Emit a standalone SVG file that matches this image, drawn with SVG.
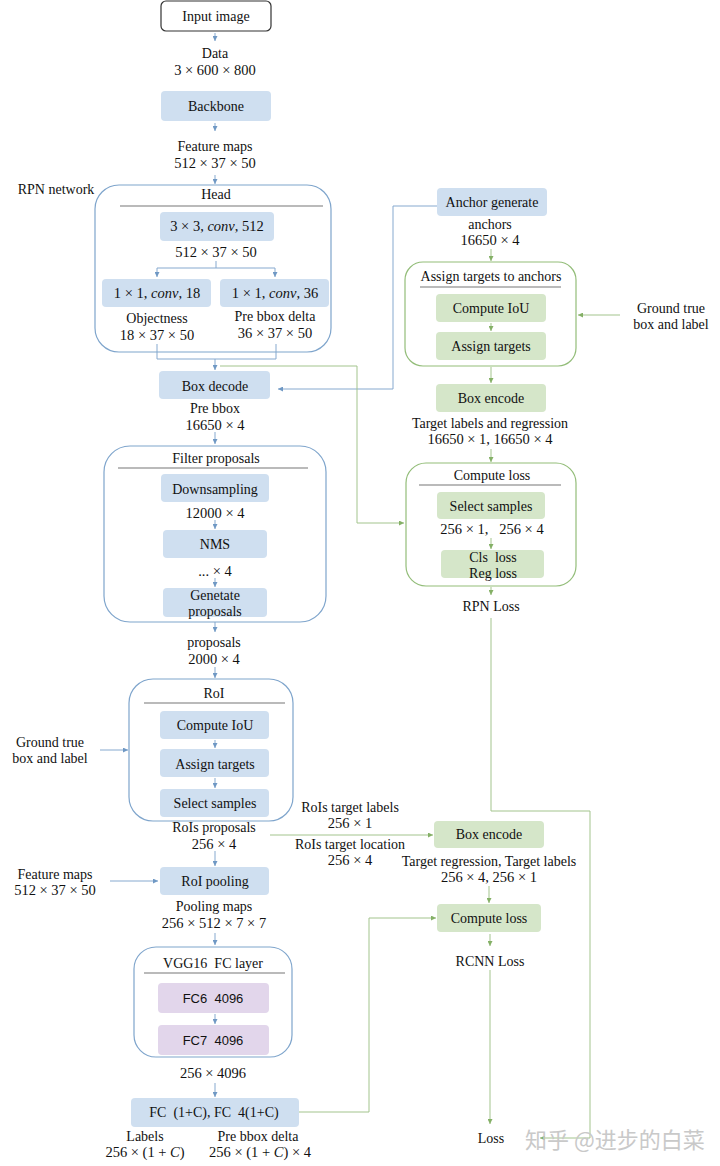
<svg xmlns="http://www.w3.org/2000/svg" width="720" height="1166" viewBox="0 0 720 1166">
<style>
text{font-family:"Liberation Serif","Times New Roman",serif;font-size:14px;fill:#111;text-anchor:middle;dominant-baseline:central}
.m{font-size:14.5px}
.i{font-style:italic}
.bb{fill:#cfdff0;stroke:none}
.gb{fill:#d5e6c9;stroke:none}
.pb{fill:#e2d6eb;stroke:none}
.bc{fill:none;stroke:#7fa5cc;stroke-width:1.2}
.gc{fill:none;stroke:#93bd79;stroke-width:1.2}
.sep{stroke:#777;stroke-width:1.2}
.bl{fill:none;stroke:#86a9cf;stroke-width:1}
.gl{fill:none;stroke:#a3c48d;stroke-width:1}
.ab{marker-end:url(#ab)}
.ag{marker-end:url(#ag)}
.wm{font-family:"Noto Sans CJK SC","Liberation Sans",sans-serif;font-size:22px;fill:#c9c9c9;text-anchor:start}
</style>
<defs>
<marker id="ab" viewBox="0 0 6 6" refX="6" refY="3" markerWidth="5" markerHeight="5" markerUnits="userSpaceOnUse" orient="auto"><path d="M0,0 L6,3 L0,6 z" fill="#6f98c4"/></marker>
<marker id="ag" viewBox="0 0 6 6" refX="6" refY="3" markerWidth="5" markerHeight="5" markerUnits="userSpaceOnUse" orient="auto"><path d="M0,0 L6,3 L0,6 z" fill="#84b066"/></marker>
</defs>
<rect width="720" height="1166" fill="#fff"/>

<g id="connectors">
<path class="bl ab" d="M215,33 V41"/>
<path class="bl ab" d="M215,123 V131"/>
<path class="bl ab" d="M215,175 V184"/>
<path class="bl" d="M216,261 V268 M157,268 H275"/>
<path class="bl ab" d="M157,268 V277"/>
<path class="bl ab" d="M275,268 V277"/>
<path class="bl" d="M157,344 V359 H276 V344"/>
<path class="bl ab" d="M215,359 V370"/>
<path class="bl ab" d="M437,206 H393 V389 H278"/>
<path class="bl ab" d="M215,432 V444"/>
<path class="bl ab" d="M215,520 V529"/>
<path class="bl ab" d="M215,578 V587"/>
<path class="bl ab" d="M215,622 V632"/>
<path class="bl ab" d="M215,667 V678"/>
<path class="bl ab" d="M215,740 V748"/>
<path class="bl ab" d="M215,778 V788"/>
<path class="bl ab" d="M100,750 H128"/>
<path class="bl ab" d="M215,851 V866"/>
<path class="bl ab" d="M110,881 H158"/>
<path class="bl ab" d="M215,933 V945"/>
<path class="bl ab" d="M215,1014 V1024"/>
<path class="bl ab" d="M215,1083 V1097"/>
<path class="gl ag" d="M220,366 H357 V523 H404"/>
<path class="gl ag" d="M491,249 V261"/>
<path class="gl ag" d="M491,323 V331"/>
<path class="gl ag" d="M620,315 H578"/>
<path class="gl ag" d="M491,367 V383"/>
<path class="gl ag" d="M491,449 V462"/>
<path class="gl ag" d="M491,538 V549"/>
<path class="gl ag" d="M491,587 V595"/>
<path class="gl ag" d="M491,618 V811 H590 V1138 H540"/>
<path class="gl ag" d="M270,835 H433"/>
<path class="gl ag" d="M489,886 V903"/>
<path class="gl ag" d="M299,1112 H369 V918 H436"/>
<path class="gl ag" d="M490,934 V946"/>
<path class="gl ag" d="M490,970 V1124"/>
</g>

<g id="input-image"><rect x="161" y="1" width="110" height="30" rx="5" fill="#fff" stroke="#333" stroke-width="1.2"/><text x="216" y="16">Input image</text></g>
<g id="data"><text x="215" y="53">Data</text><text class="m" x="215" y="70">3 × 600 × 800</text></g>
<g id="backbone"><rect class="bb" x="161" y="91" width="110" height="30" rx="4"/><text x="216" y="106">Backbone</text></g>
<g id="feature-maps"><text x="215" y="146">Feature maps</text><text class="m" x="215" y="163">512 × 37 × 50</text></g>

<g id="rpn-head">
<text x="56" y="189">RPN network</text>
<rect class="bc" x="95" y="185" width="236" height="167" rx="24"/>
<text x="216" y="194">Head</text>
<line class="sep" x1="120" y1="206" x2="323" y2="206"/>
</g>
<g id="conv3x3"><rect class="bb" x="160" y="212" width="114" height="29" rx="4"/><text class="m" x="217" y="226">3 × 3, <tspan class="i">conv</tspan>, 512</text><text class="m" x="216" y="252">512 × 37 × 50</text></g>
<g id="conv18"><rect class="bb" x="102" y="279" width="109" height="28" rx="4"/><text class="m" x="157" y="293">1 × 1, <tspan class="i">conv</tspan>, 18</text><text x="157" y="318">Objectness</text><text class="m" x="157" y="335">18 × 37 × 50</text></g>
<g id="conv36"><rect class="bb" x="220" y="279" width="109" height="28" rx="4"/><text class="m" x="275" y="293">1 × 1, <tspan class="i">conv</tspan>, 36</text><text x="275" y="316">Pre bbox delta</text><text class="m" x="275" y="333">36 × 37 × 50</text></g>

<g id="box-decode"><rect class="bb" x="159" y="371" width="111" height="28" rx="4"/><text x="215" y="386">Box decode</text><text x="215" y="408">Pre bbox</text><text class="m" x="215" y="425">16650 × 4</text></g>

<g id="filter-proposals">
<rect class="bc" x="104" y="446" width="222" height="176" rx="26"/>
<text x="216" y="458">Filter proposals</text>
<line class="sep" x1="118" y1="468" x2="308" y2="468"/>
</g>
<g id="downsampling"><rect class="bb" x="161" y="474" width="108" height="28" rx="4"/><text x="215" y="489">Downsampling</text><text class="m" x="215" y="513">12000 × 4</text></g>
<g id="nms"><rect class="bb" x="163" y="530" width="104" height="28" rx="4"/><text x="215" y="544">NMS</text><text class="m" x="215" y="571">... × 4</text></g>
<g id="generate-proposals"><rect class="bb" x="163" y="588" width="104" height="29" rx="4"/><text x="215" y="595">Genetate</text><text x="215" y="611">proposals</text></g>
<g id="proposals"><text x="214" y="642">proposals</text><text class="m" x="214" y="659">2000 × 4</text></g>

<g id="roi">
<rect class="bc" x="129" y="679" width="164" height="142" rx="24"/>
<text x="214" y="693">RoI</text>
<line class="sep" x1="144" y1="703" x2="285" y2="703"/>
</g>
<g id="roi-compute-iou"><rect class="bb" x="160" y="711" width="109" height="28" rx="4"/><text x="215" y="725">Compute IoU</text></g>
<g id="roi-assign-targets"><rect class="bb" x="160" y="749" width="109" height="28" rx="4"/><text x="215" y="764">Assign targets</text></g>
<g id="roi-select-samples"><rect class="bb" x="160" y="789" width="109" height="28" rx="4"/><text x="215" y="803">Select samples</text></g>
<g id="gt-left"><text x="50" y="742">Ground true</text><text x="50" y="758">box and label</text></g>
<g id="rois-proposals"><text x="214" y="827">RoIs proposals</text><text class="m" x="214" y="844">256 × 4</text></g>

<g id="fm-left"><text x="55" y="874">Feature maps</text><text class="m" x="55" y="890">512 × 37 × 50</text></g>
<g id="roi-pooling"><rect class="bb" x="160" y="867" width="109" height="28" rx="4"/><text x="215" y="881">RoI pooling</text><text x="214" y="906">Pooling maps</text><text class="m" x="214" y="923">256 × 512 × 7 × 7</text></g>

<g id="vgg16-fc">
<rect class="bc" x="134" y="947" width="158" height="110" rx="22"/>
<text x="213" y="963" xml:space="preserve">VGG16  FC layer</text>
<line class="sep" x1="144" y1="973" x2="285" y2="973"/>
</g>
<g id="fc6"><rect class="pb" x="158" y="983" width="111" height="30" rx="4"/><text x="213" y="998" style="font-family:'Liberation Sans',sans-serif;font-size:13px" xml:space="preserve">FC6  4096</text></g>
<g id="fc7"><rect class="pb" x="158" y="1025" width="111" height="30" rx="4"/><text x="213" y="1040" style="font-family:'Liberation Sans',sans-serif;font-size:13px" xml:space="preserve">FC7  4096</text></g>
<text class="m" x="213" y="1073">256 × 4096</text>
<g id="fc-out"><rect class="bb" x="131" y="1098" width="168" height="29" rx="4"/><text x="214" y="1112" xml:space="preserve">FC  (1+C), FC  4(1+C)</text></g>
<g id="labels-out"><text x="145" y="1136">Labels</text><text class="m" x="145" y="1152">256 × (1 + <tspan class="i">C</tspan>)</text></g>
<g id="delta-out"><text x="258" y="1136">Pre bbox delta</text><text class="m" x="260" y="1152">256 × (1 + <tspan class="i">C</tspan>) × 4</text></g>

<g id="anchor-generate"><rect class="bb" x="437" y="188" width="110" height="28" rx="4"/><text x="492" y="202">Anchor generate</text><text x="490" y="224">anchors</text><text class="m" x="490" y="240">16650 × 4</text></g>

<g id="assign-targets-to-anchors">
<rect class="gc" x="405" y="262" width="171" height="104" rx="18"/>
<text x="491" y="276">Assign targets to anchors</text>
<line class="sep" x1="420" y1="287" x2="561" y2="287"/>
</g>
<g id="rpn-compute-iou"><rect class="gb" x="436" y="294" width="110" height="28" rx="4"/><text x="491" y="308">Compute IoU</text></g>
<g id="rpn-assign-targets"><rect class="gb" x="436" y="332" width="110" height="28" rx="4"/><text x="491" y="346">Assign targets</text></g>
<g id="gt-right"><text x="671" y="308">Ground true</text><text x="671" y="324">box and label</text></g>
<g id="rpn-box-encode"><rect class="gb" x="436" y="384" width="110" height="28" rx="4"/><text x="491" y="398">Box encode</text><text x="490" y="423">Target labels and regression</text><text class="m" x="490" y="439">16650 × 1, 16650 × 4</text></g>

<g id="rpn-compute-loss">
<rect class="gc" x="406" y="463" width="170" height="123" rx="20"/>
<text x="492" y="475">Compute loss</text>
<line class="sep" x1="419" y1="485" x2="561" y2="485"/>
</g>
<g id="rpn-select-samples"><rect class="gb" x="437" y="492" width="108" height="27" rx="4"/><text x="491" y="506">Select samples</text><text class="m" x="492" y="529" xml:space="preserve">256 × 1,   256 × 4</text></g>
<g id="cls-reg-loss"><rect class="gb" x="441" y="550" width="103" height="28" rx="4"/><text x="493" y="557" xml:space="preserve">Cls  loss</text><text x="493" y="573">Reg loss</text></g>
<text x="491" y="606">RPN Loss</text>

<g id="rois-target"><text x="350" y="807">RoIs target labels</text><text class="m" x="350" y="823">256 × 1</text><text x="350" y="844">RoIs target location</text><text class="m" x="350" y="860">256 × 4</text></g>
<g id="rcnn-box-encode"><rect class="gb" x="434" y="821" width="110" height="27" rx="4"/><text x="489" y="834">Box encode</text><text x="489" y="861">Target regression, Target labels</text><text class="m" x="489" y="877">256 × 4, 256 × 1</text></g>
<g id="rcnn-compute-loss"><rect class="gb" x="437" y="904" width="104" height="28" rx="4"/><text x="489" y="918">Compute loss</text><text x="490" y="961">RCNN Loss</text></g>
<g id="loss"><text x="491" y="1138">Loss</text></g>
<text class="wm" x="525" y="1138">知乎 @进步的白菜</text>
</svg>
